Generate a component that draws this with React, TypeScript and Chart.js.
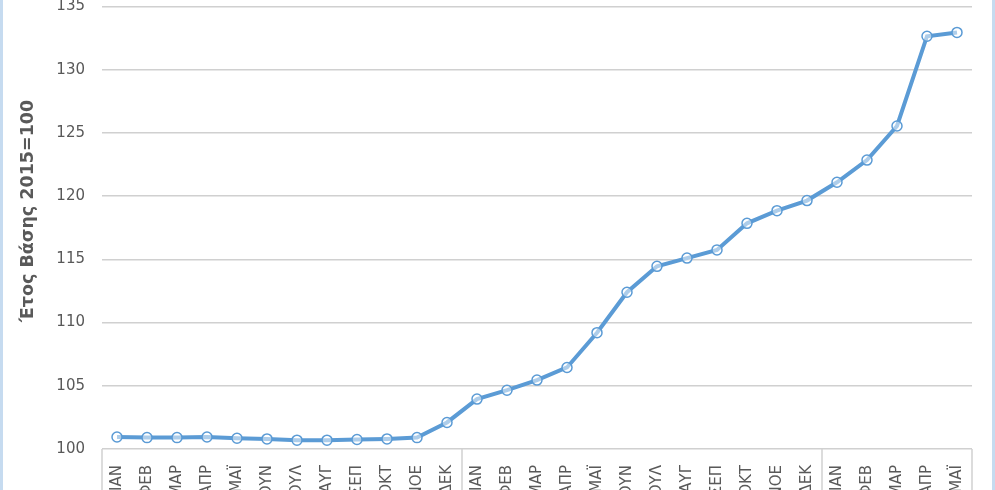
import React, { useEffect, useRef } from "react";
import { Chart, registerables } from "chart.js";

Chart.register(...registerables);

const months2021 = ["ΙΑΝ", "ΦΕΒ", "ΜΑΡ", "ΑΠΡ", "ΜΑΪ", "ΙΟΥΝ", "ΙΟΥΛ", "ΑΥΓ", "ΣΕΠ", "ΟΚΤ", "ΝΟΕ", "ΔΕΚ"];
const months2022 = ["ΙΑΝ", "ΦΕΒ", "ΜΑΡ", "ΑΠΡ", "ΜΑΪ", "ΙΟΥΝ", "ΙΟΥΛ", "ΑΥΓ", "ΣΕΠ", "ΟΚΤ", "ΝΟΕ", "ΔΕΚ"];
const months2023 = ["ΙΑΝ", "ΦΕΒ", "ΜΑΡ", "ΑΠΡ", "ΜΑΪ"];

const values2021 = [100.95, 100.9, 100.9, 100.95, 100.85, 100.8, 100.7, 100.7, 100.75, 100.8, 100.9, 102.1];
const values2022 = [103.95, 104.65, 105.45, 106.45, 109.2, 112.4, 114.45, 115.1, 115.75, 117.85, 118.85, 119.65];
const values2023 = [121.1, 122.85, 125.55, 132.65, 132.95];

const yTitle = "Έτος Βάσης 2015=100";
const yMin = 100;
const yMax = 135;
const yStep = 5;

const W = 995;
const H = 520;

export default function App() {
  const ref = useRef<HTMLCanvasElement | null>(null);

  useEffect(() => {
    const canvas = ref.current;
    if (!canvas) return;
    const labels = [...months2021, ...months2022, ...months2023];
    const data = [...values2021, ...values2022, ...values2023];
    const yearBreaks = [months2021.length, months2021.length + months2022.length];

    const decor = {
      id: "decor",
      beforeDraw(chart: any) {
        const ctx = chart.ctx;
        ctx.save();
        ctx.fillStyle = "#c6dbf0";
        ctx.fillRect(0, 0, 3, H);
        ctx.fillRect(992, 0, 3, H);
        ctx.restore();
      },
      afterDraw(chart: any) {
        const ctx = chart.ctx;
        const area = chart.chartArea;
        const xs = chart.scales.x;
        ctx.save();
        ctx.strokeStyle = "#d0d0d0";
        ctx.lineWidth = 1.5;
        const positions = [area.left, area.right];
        yearBreaks.forEach((b) => {
          positions.push((xs.getPixelForValue(b - 1) + xs.getPixelForValue(b)) / 2);
        });
        positions.forEach((p) => {
          ctx.beginPath();
          ctx.moveTo(p, area.bottom);
          ctx.lineTo(p, H);
          ctx.stroke();
        });
        // y-axis title
        ctx.translate(28, area.top + (area.bottom - area.top) * 0.462);
        ctx.rotate(-Math.PI / 2);
        ctx.fillStyle = "#595959";
        ctx.font = "bold 17.5px 'DejaVu Sans'";
        ctx.textAlign = "center";
        ctx.textBaseline = "middle";
        ctx.fillText(yTitle, 0, 0);
        ctx.restore();
      },
    };

    const chart = new Chart(canvas, {
      type: "line",
      data: {
        labels,
        datasets: [
          {
            data,
            borderColor: "#5b9bd5",
            borderWidth: 4,
            pointRadius: 5,
            pointBorderWidth: 1.5,
            pointBorderColor: "#5b9bd5",
            pointBackgroundColor: "rgba(255,255,255,0.5)",
            tension: 0,
          },
        ],
      },
      options: {
        responsive: false,
        animation: false,
        devicePixelRatio: 1,
        layout: { padding: { top: 5, right: 23, bottom: 0, left: 0 } },
        plugins: { legend: { display: false }, tooltip: { enabled: false } },
        scales: {
          x: {
            offset: true,
            grid: { display: false },
            border: { display: false },
            ticks: {
              autoSkip: false,
              minRotation: 90,
              maxRotation: 90,
              padding: 8,
              color: "#595959",
              font: { family: "'DejaVu Sans'", size: 15 },
            },
            afterFit(scale: any) {
              scale.height = 71;
              scale.paddingLeft = 0;
              scale.paddingRight = 0;
            },
          },
          y: {
            min: yMin,
            max: yMax,
            grid: { color: "#d0d0d0", lineWidth: 1.5, drawTicks: false },
            border: { display: false },
            ticks: {
              stepSize: yStep,
              padding: 17,
              color: "#595959",
              font: { family: "'DejaVu Sans'", size: 15 },
            },
            afterFit(scale: any) {
              scale.width = 102;
              scale.paddingTop = 0;
              scale.paddingBottom = 0;
            },
          },
        },
      },
      plugins: [decor],
    });
    return () => chart.destroy();
  }, []);

  return (
    <div style={{ position: "fixed", left: 0, top: 0, width: W, height: 490, overflow: "hidden", background: "#fff" }}>
      <canvas ref={ref} width={W} height={H} style={{ display: "block", width: W, height: H }} />
    </div>
  );
}
